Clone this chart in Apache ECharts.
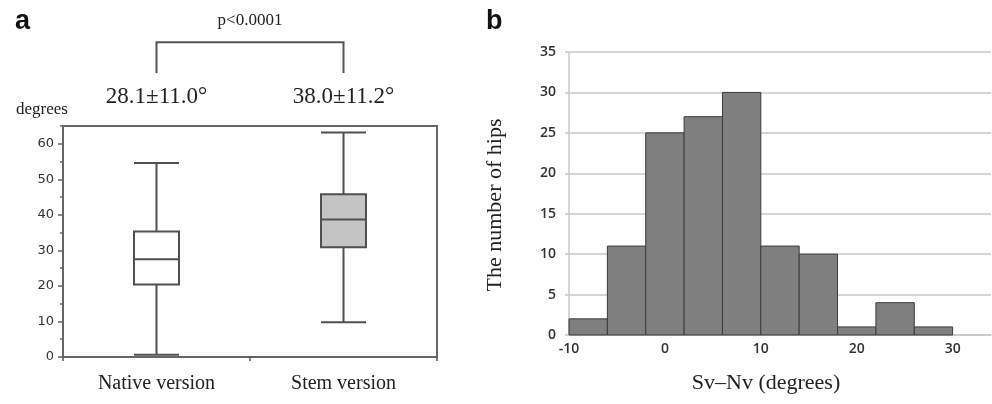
<!DOCTYPE html>
<html><head><meta charset="utf-8">
<script src="https://cdn.jsdelivr.net/npm/echarts@6/dist/echarts.min.js"></script>
<style>html,body{margin:0;padding:0;background:#fff}#c{width:992px;height:404px}</style>
</head><body><div id="c"></div>
<script>
// ---- Panel a: box plots ----
const boxCategories = ['Native version', 'Stem version'];
// [min, Q1, median, Q3, max]
const boxStats = [
  [0.6, 20.4, 27.5, 35.3, 54.6],
  [9.8, 30.9, 38.7, 45.8, 63.2]
];
const boxFills = ['#ffffff', '#c4c4c4'];
const meanLabels = ['28.1±11.0°', '38.0±11.2°'];
const pValueLabel = 'p<0.0001';
const yTicksA = [0, 10, 20, 30, 40, 50, 60];
const yMaxA = 65;
// annotation heights (in degrees, above plot)
const meanLabelLevel = 73.2;
const bracketLow = 79.9;
const bracketHigh = 88.6;
const pLabelLevel = 94.8;

// ---- Panel b: histogram ----
const binEdges = [-10, -6, -2, 2, 6, 10, 14, 18, 22, 26, 30];
const hipCounts = [2, 11, 25, 27, 30, 11, 10, 1, 4, 1];
const xTicksB = [-10, 0, 10, 20, 30];
const xMaxB = 34;
const yTicksB = [0, 5, 10, 15, 20, 25, 30, 35];

const serif = '"Liberation Serif", "Times New Roman", serif';
const sans = '"DejaVu Sans", Verdana, sans-serif';

const chart = echarts.init(document.getElementById('c'), null, {renderer: 'canvas'});

const histData = hipCounts.map((c, i) => [binEdges[i], binEdges[i + 1], c]);
const boxData = boxStats.map((v, i) => ({value: v, itemStyle: {color: boxFills[i]}}));

chart.setOption({
  animation: false,
  backgroundColor: '#fff',
  graphic: [
    {type: 'text', left: 15, top: 8, style: {text: 'a', font: 'bold 27px "Liberation Sans", Arial, sans-serif', fill: '#111'}},
    {type: 'text', left: 486, top: 8, style: {text: 'b', font: 'bold 27px "Liberation Sans", Arial, sans-serif', fill: '#111'}},
    {type: 'text', left: 16, top: 101, style: {text: 'degrees', font: '17px ' + serif, fill: '#222'}},
    {type: 'text', x: 766, y: 383, style: {text: 'Sv\u2013Nv (degrees)', font: '22px ' + serif, fill: '#222', align: 'center', verticalAlign: 'middle'}},
    {type: 'text', x: 495, y: 205, rotation: Math.PI / 2, style: {text: 'The number of hips', font: '22px ' + serif, fill: '#222', align: 'center', verticalAlign: 'middle'}}
  ],
  grid: [
    {left: 63, right: 555, top: 126, bottom: 47, show: true, borderColor: '#666', borderWidth: 2, backgroundColor: 'transparent'},
    {left: 569, right: 1, top: 52, bottom: 69}
  ],
  xAxis: [
    {
      type: 'category', gridIndex: 0, data: boxCategories, boundaryGap: true,
      axisLine: {show: true, lineStyle: {color: '#666', width: 2}},
      axisTick: {show: true, length: 4, lineStyle: {color: '#555', width: 1.5}},
      axisLabel: {color: '#222', fontFamily: serif, fontSize: 20, margin: 17},
      splitLine: {show: false}
    },
    {
      type: 'value', gridIndex: 1, min: xTicksB[0], max: xMaxB, interval: xTicksB[1] - xTicksB[0],
      axisLine: {show: true, onZero: false, lineStyle: {color: '#c8c8c8', width: 1.5}},
      axisTick: {show: false},
      axisLabel: {color: '#333', fontFamily: '"Open Sans", sans-serif', fontWeight: 600, fontSize: 14, margin: 7, showMaxLabel: false},
      splitLine: {show: false}
    }
  ],
  yAxis: [
    {
      type: 'value', gridIndex: 0, min: yTicksA[0], max: yMaxA, interval: yTicksA[1] - yTicksA[0],
      axisLine: {show: true, lineStyle: {color: '#666', width: 2}},
      axisTick: {show: true, length: 5, lineStyle: {color: '#666', width: 1.5}},
      axisLabel: {color: '#333', fontFamily: sans, fontSize: 13, margin: 9, showMaxLabel: false},
      splitLine: {show: false}
    },
    {
      type: 'value', gridIndex: 0, min: yTicksA[0], max: yMaxA, interval: (yTicksA[1] - yTicksA[0]) / 2,
      position: 'left', offset: 0,
      axisLine: {show: false},
      axisTick: {show: true, length: 3, lineStyle: {color: '#666', width: 1.5}},
      axisLabel: {show: false},
      splitLine: {show: false}
    },
    {
      type: 'value', gridIndex: 1, min: yTicksB[0], max: yTicksB[yTicksB.length - 1], interval: yTicksB[1] - yTicksB[0],
      axisLine: {show: true, onZero: false, lineStyle: {color: '#c8c8c8', width: 1.5}},
      axisTick: {show: true, length: 4, lineStyle: {color: '#c8c8c8', width: 1.5}},
      axisLabel: {color: '#333', fontFamily: '"Open Sans", sans-serif', fontWeight: 600, fontSize: 14, margin: 13},
      splitLine: {show: true, lineStyle: {color: '#c8c8c8', width: 1.5}}
    }
  ],
  series: [
    {
      type: 'boxplot', xAxisIndex: 0, yAxisIndex: 0, data: boxData,
      boxWidth: [45, 45],
      itemStyle: {borderColor: '#505050', borderWidth: 2}
    },
    {
      type: 'custom', xAxisIndex: 0, yAxisIndex: 0, clip: false, silent: true,
      data: [[0, 1, bracketLow, bracketHigh, pLabelLevel]],
      encode: {x: [0, 1], y: [2, 3]},
      renderItem: (params, api) => {
        const a0 = api.coord([api.value(0), api.value(2)]);
        const a1 = api.coord([api.value(0), api.value(3)]);
        const b1 = api.coord([api.value(1), api.value(3)]);
        const b0 = api.coord([api.value(1), api.value(2)]);
        const pt = api.coord([api.value(0), api.value(4)]);
        return {
          type: 'group',
          children: [
            {type: 'polyline', shape: {points: [a0, a1, b1, b0]}, style: {stroke: '#555', lineWidth: 2, fill: null}},
            {type: 'text', style: {text: pValueLabel, x: (a0[0] + b0[0]) / 2, y: pt[1], align: 'center', verticalAlign: 'middle', font: '17px ' + serif, fill: '#222'}}
          ]
        };
      }
    },
    {
      type: 'custom', xAxisIndex: 0, yAxisIndex: 0, clip: false, silent: true,
      data: meanLabels.map((t, i) => [i, meanLabelLevel]),
      renderItem: (params, api) => {
        const p = api.coord([api.value(0), api.value(1)]);
        return {type: 'text', style: {text: meanLabels[params.dataIndex], x: p[0], y: p[1], align: 'center', verticalAlign: 'middle', font: '23px ' + serif, fill: '#222'}};
      }
    },
    {
      type: 'custom', xAxisIndex: 1, yAxisIndex: 2, data: histData,
      encode: {x: [0, 1], y: 2},
      renderItem: (params, api) => {
        const p0 = api.coord([api.value(0), api.value(2)]);
        const p1 = api.coord([api.value(1), 0]);
        return {type: 'rect', shape: {x: p0[0], y: p0[1], width: p1[0] - p0[0], height: p1[1] - p0[1]},
          style: {fill: '#7f7f7f', stroke: '#3c3c3c', lineWidth: 1}};
      }
    }
  ]
});
</script></body></html>
